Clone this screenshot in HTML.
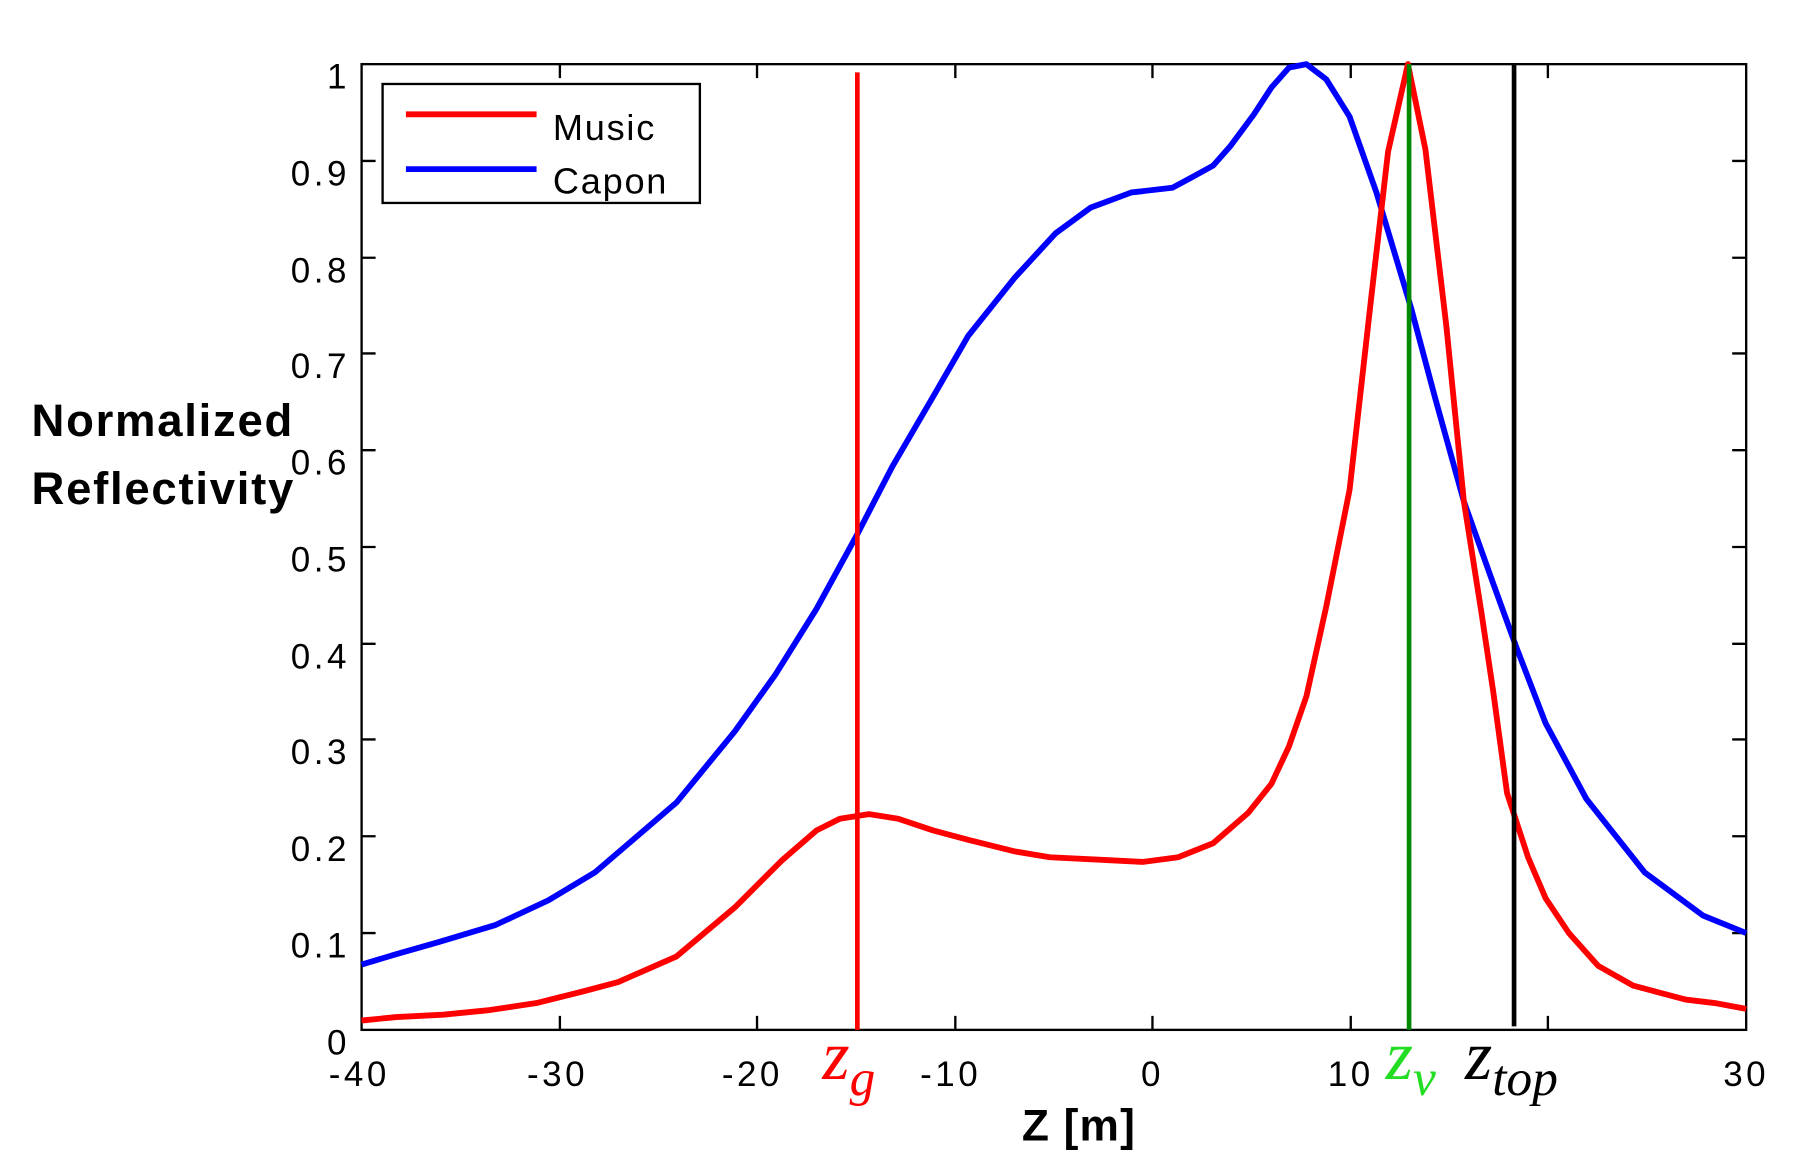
<!DOCTYPE html>
<html><head><style>html,body{margin:0;padding:0;background:#fff}svg{display:block}</style></head>
<body>
<svg width="1808" height="1171" viewBox="0 0 1550 1004" preserveAspectRatio="none" xmlns="http://www.w3.org/2000/svg" font-family="Liberation Sans, sans-serif">
<rect width="1550" height="1004" fill="#fff"/>
<g stroke="#000" stroke-width="2">
<rect x="310" y="55" width="1187" height="828" fill="none"/>
<path d="M310,800h12M310,717h12M310,634h12M310,552h12M310,469h12M310,386h12M310,303h12M310,221h12M310,138h12
M1497,800h-12M1497,717h-12M1497,634h-12M1497,552h-12M1497,469h-12M1497,386h-12M1497,303h-12M1497,221h-12M1497,138h-12
M480,883v-12M649,883v-12M819,883v-12M988,883v-12M1158,883v-12M1327,883v-12
M480,55v12M649,55v12M819,55v12M988,55v12M1158,55v12M1327,55v12"/>
</g>
<g font-size="30" letter-spacing="3" text-anchor="end" fill="#000">
<text x="300" y="76">1</text><text x="300" y="159">0.9</text><text x="300" y="242">0.8</text><text x="300" y="324">0.7</text><text x="300" y="407">0.6</text><text x="300" y="490">0.5</text><text x="300" y="573">0.4</text><text x="300" y="655">0.3</text><text x="300" y="738">0.2</text><text x="300" y="821">0.1</text><text x="300" y="904">0</text>
</g>
<g font-size="30" letter-spacing="3" text-anchor="middle">
<text x="308" y="931">-40</text><text x="478" y="931">-30</text><text x="645" y="931">-20</text><text x="815" y="931">-10</text><text x="988" y="931">0</text><text x="1158" y="931">10</text><text x="1497" y="931">30</text>
</g>
<text x="925" y="978" font-size="38" letter-spacing="1" font-weight="bold" text-anchor="middle">Z [m]</text>
<text x="27" y="374" font-size="39" letter-spacing="1.5" font-weight="bold">Normalized</text>
<text x="27" y="432" font-size="39" letter-spacing="1.5" font-weight="bold">Reflectivity</text>
<polyline fill="none" stroke="#00f" stroke-width="5" stroke-linejoin="round" points="310,827 340,818 375,808 425,793 470,772 510,748 545,718 580,688 630,627 665,578 700,522 735,458 765,400 800,340 830,288 870,238 905,200 935,178 970,165 1005,161 1020,153 1040,142 1055,125 1075,98 1090,75 1105,58 1120,55 1137,68 1157,100 1180,165 1210,265 1230,340 1255,430 1280,500 1300,555 1325,620 1360,685 1410,748 1460,785 1497,800"/>
<polyline fill="none" stroke="#f00" stroke-width="5" stroke-linejoin="round" points="310,875 340,872 380,870 420,866 460,860 500,850 530,842 580,820 630,778 670,738 700,712 720,702 745,698 770,702 800,712 830,720 870,730 900,735 940,737 980,739 1010,735 1040,723 1070,697 1090,672 1105,640 1120,597 1137,520 1157,420 1175,260 1190,130 1207,55 1222,128 1240,280 1255,430 1270,525 1280,592 1292,680 1310,735 1325,770 1345,800 1370,828 1400,845 1445,857 1470,860 1497,865"/>
<line x1="735" y1="62" x2="735" y2="883" stroke="#f00" stroke-width="4"/>
<line x1="1208" y1="55" x2="1208" y2="883" stroke="#080" stroke-width="4"/>
<line x1="1298" y1="55" x2="1298" y2="880" stroke="#000" stroke-width="4"/>
<rect x="328" y="72" width="272" height="102" fill="#fff" stroke="#000" stroke-width="2"/>
<line x1="348" y1="98" x2="460" y2="98" stroke="#f00" stroke-width="5"/>
<line x1="348" y1="145" x2="460" y2="145" stroke="#00f" stroke-width="5"/>
<text x="474" y="120" font-size="31" letter-spacing="1.5">Music</text>
<text x="474" y="166" font-size="31" letter-spacing="1.5">Capon</text>
<g font-family="Liberation Serif, serif" font-style="italic" font-size="60">
<text x="705" y="925" fill="#f00">z<tspan font-size="44" dy="14">g</tspan></text>
<text x="1188" y="925" fill="#2d2">z<tspan font-size="44" dy="14">v</tspan></text>
<text x="1256" y="925" fill="#000">z<tspan font-size="44" dy="14">top</tspan></text>
</g>
</svg>
</body></html>
